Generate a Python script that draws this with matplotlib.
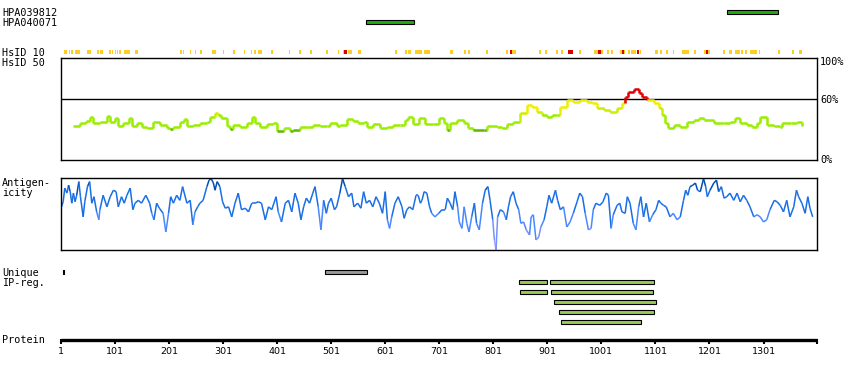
import numpy as np
import matplotlib
matplotlib.use('Agg')
import matplotlib.pyplot as plt
from matplotlib.collections import LineCollection

# ---- data ----
prot_len = 1400
tick_pos = [1, 101, 201, 301, 401, 501, 601, 701, 801, 901, 1001, 1101, 1201, 1301]

hpa_names = ['HPA039812', 'HPA040071']
hpa_start = [1234, 566]
hpa_end = [1328, 654]

# HsID 10 (start, end) spans
hsid_orange = [(7, 12), (15, 18), (19, 23), (27, 36), (50, 56), (67, 72), (74, 78), (90, 93),
               (95, 98), (101, 103), (105, 107), (109, 112), (118, 129), (138, 143), (221, 224),
               (226, 228), (240, 242), (249, 251), (258, 261), (281, 288), (301, 302), (320, 321),
               (339, 342), (352, 355), (358, 362), (365, 373), (390, 393), (423, 424), (442, 445),
               (462, 465), (492, 495), (513, 516), (523, 525), (533, 539), (551, 556), (619, 622),
               (638, 641), (644, 648), (656, 669), (673, 684), (721, 726), (747, 750), (754, 758),
               (788, 791), (825, 829), (835, 843), (886, 889), (896, 900), (917, 920), (926, 930),
               (960, 964), (988, 994), (1001, 1004), (1012, 1015), (1019, 1022), (1035, 1039),
               (1043, 1045), (1051, 1053), (1055, 1065), (1072, 1074), (1101, 1105), (1110, 1113),
               (1121, 1124), (1134, 1136), (1150, 1164), (1173, 1176), (1190, 1194), (1199, 1200),
               (1226, 1229), (1238, 1243), (1249, 1258), (1260, 1263), (1267, 1270), (1276, 1289),
               (1292, 1294), (1328, 1331), (1354, 1357), (1366, 1372)]
hsid_red = [(525, 530), (831, 835), (940, 949), (994, 1000), (1039, 1042), (1067, 1071), (1194, 1198)]

# HsID 50 identity (%)
id_res = [24, 36, 48, 55, 61, 73, 86, 92, 101, 107, 116, 126, 132, 141, 150, 160, 172, 184,
          197, 203, 209, 221, 228, 234, 246, 258, 271, 277, 286, 292, 298, 308, 314, 320, 332,
          345, 354, 360, 369, 382, 394, 400, 413, 425, 431, 443, 456, 468, 480, 493, 499, 511,
          517, 530, 542, 551, 561, 567, 579, 592, 604, 616, 629, 638, 644, 653, 663, 675, 690,
          700, 709, 715, 721, 734, 746, 755, 764, 783, 789, 808, 817, 826, 838, 851, 863, 872,
          882, 891, 900, 909, 919, 925, 937, 949, 962, 974, 983, 993, 1005, 1017, 1030, 1039,
          1045, 1051, 1061, 1070, 1076, 1085, 1098, 1107, 1113, 1119, 1125, 1135, 1147, 1159,
          1172, 1181, 1190, 1209, 1227, 1239, 1249, 1258, 1270, 1280, 1289, 1295, 1307, 1320,
          1332, 1335, 1351, 1363, 1372]
id_val = [33.3, 36, 38.5, 41.8, 36.6, 37.3, 43.1, 37.6, 40.9, 33.3, 36.6, 40.9, 33.3, 36,
          32.7, 31, 37.3, 34.3, 31, 30.1, 32.7, 37.6, 39.9, 33.3, 34, 36, 37.3, 42.5, 46.4,
          44.1, 40.9, 33.3, 30.1, 34.3, 32.7, 36, 41.8, 36, 32.7, 35.3, 36, 28.8, 31, 28.8,
          29.4, 32.7, 32.7, 34.3, 33.3, 33.3, 36, 33.3, 34.3, 39.9, 38.6, 36, 37.6, 32.7, 35.3,
          31, 32.7, 34.3, 34.3, 39.2, 42.5, 35.3, 40.9, 35.3, 35.3, 40.9, 36.6, 29.4, 36, 39.2,
          36, 31, 29.4, 29.4, 33.3, 32.7, 31, 35.3, 37.6, 45.7, 53.9, 52.3, 47.4, 44.1, 42.5,
          44.1, 44.1, 52.3, 58.8, 57.2, 58.8, 57.2, 55.5, 50.6, 49, 47.4, 50.6, 55.5, 62.1, 67,
          69.3, 65.3, 62.1, 58.8, 55.5, 50.6, 44.1, 35.9, 31, 34.3, 32, 37.6, 39.2, 40.9, 39.2,
          36, 36, 37.6, 40.9, 36, 34.3, 32.7, 36, 42.5, 34.3, 33.3, 32.7, 36, 36, 37.6, 33.3]

# Antigenicity (relative, 0-100)
ag_res = [2, 5, 8, 12, 15, 18, 21, 24, 27, 30, 34, 37, 42, 45, 50, 54, 58, 62, 67, 71, 73, 79,
          86, 92, 98, 103, 107, 113, 118, 123, 129, 134, 138, 144, 150, 158, 165, 169, 173, 178,
          183, 190, 195, 200, 204, 209, 215, 221, 226, 234, 240, 245, 249, 254, 258, 264, 271,
          275, 279, 283, 286, 290, 295, 300, 305, 311, 317, 323, 329, 335, 342, 348, 354, 360,
          366, 372, 379, 385, 391, 399, 403, 409, 416, 422, 428, 434, 440, 445, 450, 455, 461,
          467, 471, 477, 482, 487, 492, 496, 501, 507, 511, 517, 522, 527, 533, 539, 543, 550,
          556, 561, 566, 572, 578, 584, 590, 596, 601, 605, 609, 613, 619, 625, 632, 636, 641,
          646, 652, 658, 662, 666, 669, 673, 678, 683, 687, 693, 700, 706, 712, 716, 721, 726,
          730, 735, 738, 743, 747, 752, 756, 761, 766, 770, 775, 781, 786, 791, 795, 800, 803,
          806, 809, 814, 820, 825, 829, 833, 838, 843, 848, 852, 857, 862, 868, 871, 875, 880,
          885, 889, 895, 900, 904, 909, 916, 920, 925, 931, 937, 943, 949, 956, 961, 966, 971,
          977, 982, 986, 991, 998, 1004, 1010, 1014, 1019, 1023, 1030, 1035, 1039, 1045, 1049,
          1054, 1060, 1065, 1070, 1074, 1079, 1084, 1090, 1096, 1102, 1107, 1111, 1116, 1121,
          1128, 1134, 1141, 1147, 1153, 1157, 1161, 1165, 1170, 1175, 1179, 1184, 1190, 1194,
          1197, 1202, 1209, 1214, 1218, 1223, 1228, 1233, 1239, 1246, 1252, 1258, 1264, 1270,
          1276, 1283, 1289, 1295, 1301, 1307, 1313, 1321, 1326, 1332, 1338, 1344, 1350, 1357,
          1362, 1366, 1372, 1378, 1383, 1387, 1392]
ag_val = [60, 67, 86, 79, 90, 81, 65, 79, 67, 76, 95, 74, 46, 67, 88, 95, 65, 74, 53, 42, 56,
          76, 60, 74, 83, 81, 60, 74, 65, 76, 86, 56, 65, 69, 65, 76, 65, 51, 42, 65, 58, 51, 25,
          51, 74, 65, 76, 69, 88, 65, 69, 35, 53, 60, 65, 69, 88, 97, 99, 93, 83, 95, 88, 67, 58,
          60, 46, 65, 79, 56, 58, 53, 65, 65, 67, 65, 42, 60, 56, 74, 53, 39, 65, 69, 53, 79, 65,
          42, 60, 72, 65, 79, 88, 60, 28, 69, 51, 65, 72, 56, 60, 79, 99, 88, 74, 79, 60, 65, 58,
          81, 65, 69, 60, 74, 65, 51, 81, 42, 30, 46, 65, 74, 60, 44, 56, 60, 56, 76, 76, 65, 69,
          81, 79, 60, 51, 46, 51, 56, 56, 72, 65, 56, 81, 60, 39, 30, 60, 37, 25, 46, 65, 37, 28,
          65, 83, 88, 69, 42, 14, 0, 46, 56, 53, 42, 60, 74, 81, 65, 56, 37, 39, 28, 21, 46, 49,
          14, 18, 32, 42, 60, 76, 65, 83, 69, 56, 60, 32, 39, 51, 67, 79, 74, 51, 28, 30, 56, 65,
          62, 67, 79, 76, 30, 49, 62, 65, 53, 51, 74, 65, 37, 28, 60, 74, 46, 65, 39, 49, 56, 69,
          65, 62, 60, 46, 51, 42, 46, 69, 83, 76, 88, 90, 93, 83, 81, 99, 88, 74, 83, 93, 97, 81,
          88, 72, 74, 79, 69, 79, 67, 76, 69, 60, 46, 49, 46, 39, 42, 56, 69, 67, 62, 53, 69, 46,
          60, 83, 74, 65, 51, 74, 58, 46]

unique_spans = [(4, 6), (490, 567)]
unique_cols = ['black', '#999999']

prest_start = [[849, 905], [851, 907], [914], [923], [927]]
prest_end = [[900, 1099], [900, 1096], [1102], [1099], [1074]]

# ---- layout in pixels ----
W, H = 850, 380
X0, X1 = 61, 817
fig = plt.figure(figsize=(W / 100, H / 100), dpi=100)
mono = 'DejaVu Sans Mono'


def px_axes(x0, y0, x1, y1):
    return fig.add_axes([x0 / W, 1 - y1 / H, (x1 - x0) / W, (y1 - y0) / H])


res_per_px = (prot_len - 1) / (X1 - X0)
bg = fig.add_axes([0, 0, 1, 1])
bg.set_xlim(1 - X0 * res_per_px, 1 + (W - X0) * res_per_px)
bg.set_ylim(H, 0)
bg.axis('off')

# antibodies
for i, name in enumerate(hpa_names):
    y = 12 + 10 * i
    fig.text(2 / W, 1 - (y + 1) / H, name, fontsize=7.3, family=mono, va='center')
    bg.barh(y, hpa_end[i] - hpa_start[i], left=hpa_start[i], height=4,
            color='#22aa11', edgecolor='black', linewidth=0.8)

# HsID 10 strip
for s, e in hsid_orange:
    bg.barh(52, max(e - s, 2.2), left=s, height=4.8, color='#ffcc22', linewidth=0,
            antialiased=False)
for s, e in hsid_red:
    bg.barh(52, max(e - s, 2.2), left=s, height=4.8, color='#dd0000', linewidth=0,
            antialiased=False)

fig.text(2 / W, 1 - 53 / H, 'HsID 10', fontsize=7.3, family=mono, va='center')
fig.text(2 / W, 1 - 63 / H, 'HsID 50', fontsize=7.3, family=mono, va='center')


def id_color(v):
    if v > 60:
        return '#dd0000'
    if v >= 52:
        return '#eeee00'
    if v >= 45:
        return '#ccee00'
    if v >= 31:
        return '#99ee00'
    return '#5cb800'


ax_id = px_axes(X0, 58, X1, 160)
ax_id.set_xlim(1, prot_len)
ax_id.set_ylim(0, 100)
ax_id.axhline(60, color='black', lw=1.0)
segs, cols = [], []
for i in range(len(id_res) - 1):
    segs.append([(id_res[i], id_val[i]), (id_res[i + 1], id_val[i])])
    cols.append(id_color(id_val[i]))
    segs.append([(id_res[i + 1], id_val[i]), (id_res[i + 1], id_val[i + 1])])
    cols.append(id_color(max(id_val[i], id_val[i + 1])))
ax_id.add_collection(LineCollection(segs, colors=cols, linewidths=1.8))
ax_id.set_xticks([])
ax_id.set_yticks([])
for sp in ax_id.spines.values():
    sp.set_linewidth(1.0)
for y, lab in [(62, '100%'), (100, '60%'), (160, '0%')]:
    fig.text(820 / W, 1 - y / H, lab, fontsize=7.3, family=mono, va='center', ha='left')


def ag_color(v):
    if v >= 85:
        return '#0050b4'
    if v >= 50:
        return '#1a6ee6'
    if v >= 30:
        return '#4a88ff'
    if v >= 15:
        return '#7790ff'
    return '#a0a0ff'


ax_ag = px_axes(X0, 178, X1, 250)
ax_ag.set_xlim(1, prot_len)
ax_ag.set_ylim(0, 100)
segs, cols = [], []
for i in range(len(ag_res) - 1):
    segs.append([(ag_res[i], ag_val[i]), (ag_res[i + 1], ag_val[i + 1])])
    cols.append(ag_color((ag_val[i] + ag_val[i + 1]) / 2))
ax_ag.add_collection(LineCollection(segs, colors=cols, linewidths=1.1))
ax_ag.set_xticks([])
ax_ag.set_yticks([])
for sp in ax_ag.spines.values():
    sp.set_linewidth(1.0)
fig.text(2 / W, 1 - 183 / H, 'Antigen-', fontsize=7.3, family=mono, va='center')
fig.text(2 / W, 1 - 193 / H, 'icity', fontsize=7.3, family=mono, va='center')

# unique / PrEST
fig.text(2 / W, 1 - 273 / H, 'Unique', fontsize=7.3, family=mono, va='center')
fig.text(2 / W, 1 - 283 / H, 'IP-reg.', fontsize=7.3, family=mono, va='center')
for (s, e), c in zip(unique_spans, unique_cols):
    bg.barh(272, e - s, left=s, height=4, color=c, edgecolor='black', linewidth=0.8)
for row in range(len(prest_start)):
    y = 282.3 + 10 * row
    for s, e in zip(prest_start[row], prest_end[row]):
        bg.barh(y, e - s, left=s, height=4, color='#99cc55', edgecolor='black', linewidth=0.8)

# protein axis
fig.text(2 / W, 1 - 340 / H, 'Protein', fontsize=7.3, family=mono, va='center')
bg.hlines(339.5, 1, prot_len, color='black', lw=2.4)
bg.vlines(tick_pos + [prot_len], 339, 343.5, color='black', lw=1.5)
for t in tick_pos:
    bg.text(t, 352, str(t), fontsize=6.8, ha='center', va='center')

fig.savefig('out.png', dpi=100)
